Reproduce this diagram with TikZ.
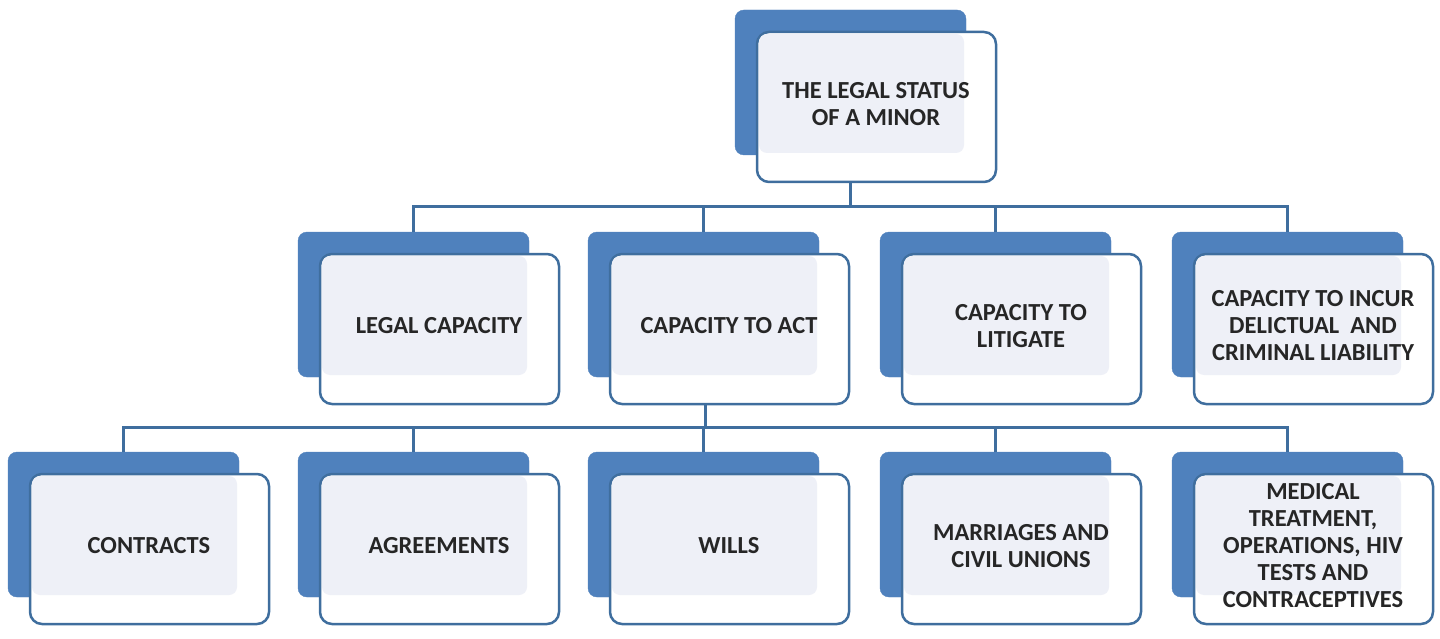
\documentclass[tikz,border=0pt]{standalone}
\usepackage{fontspec}
\setmainfont{Carlito}
\definecolor{bk}{HTML}{4F81BD}
\definecolor{ln}{HTML}{3F6E9E}
\definecolor{lt}{HTML}{EEF0F7}
\begin{document}
\begin{tikzpicture}[x=1pt,y=-1pt,
  back/.style={fill=bk,draw=bk,rounded corners=9pt},
  front/.style={fill=white,draw=ln,line width=2.5pt,rounded corners=12pt},
  conn/.style={draw=ln,line width=3pt},
  lbl/.style={font=\bfseries\fontsize{24.5}{27}\selectfont,align=center,text=black!85}]
\useasboundingbox (0,0) rectangle (1440,639);
\foreach \bx/\by/\nm/\txt in {
  735/10/top/{THE LEGAL STATUS\\OF A MINOR},
  298/232/a/{LEGAL CAPACITY},
  588/232/b/{CAPACITY TO ACT},
  880/232/c/{CAPACITY TO\\LITIGATE},
  1172/232/d/{CAPACITY TO INCUR\\DELICTUAL\ \ AND\\CRIMINAL LIABILITY},
  8/452/e/{CONTRACTS},
  298/452/f/{AGREEMENTS},
  588/452/g/{WILLS},
  880/452/h/{MARRIAGES AND\\CIVIL UNIONS},
  1172/452/i/{MEDICAL\\TREATMENT,\\OPERATIONS, HIV\\TESTS AND\\CONTRACEPTIVES}}{
  \fill[back] (\bx,\by) rectangle ++(231,145);
  \draw[front] (\bx+22,\by+22) rectangle ++(239,150);
  \fill[lt,rounded corners=8pt] (\bx+24,\by+24) rectangle (\bx+229,\by+143);
  \coordinate (\nm-b) at (\bx+115,\by);
  \coordinate (\nm-f) at (\bx+141,\by+172);
  \node[lbl] (\nm) at (\bx+141,\by+94) {\txt};
}
\coordinate (bus1) at (850,207);
\coordinate (bus2) at (705,427);
\draw[conn] (bus1 |- top-f) -- (bus1);
\draw[conn] (a-b) |- (bus1) (d-b) |- (bus1);
\draw[conn] (b-b) -- (b-b |- bus1) (c-b) -- (c-b |- bus1);
\draw[conn] (bus2 |- b-f) -- (bus2);
\draw[conn] (e-b) |- (bus2) (i-b) |- (bus2);
\foreach \n in {f,g,h}{\draw[conn] (\n-b) -- (\n-b |- bus2);}
\end{tikzpicture}
\end{document}
